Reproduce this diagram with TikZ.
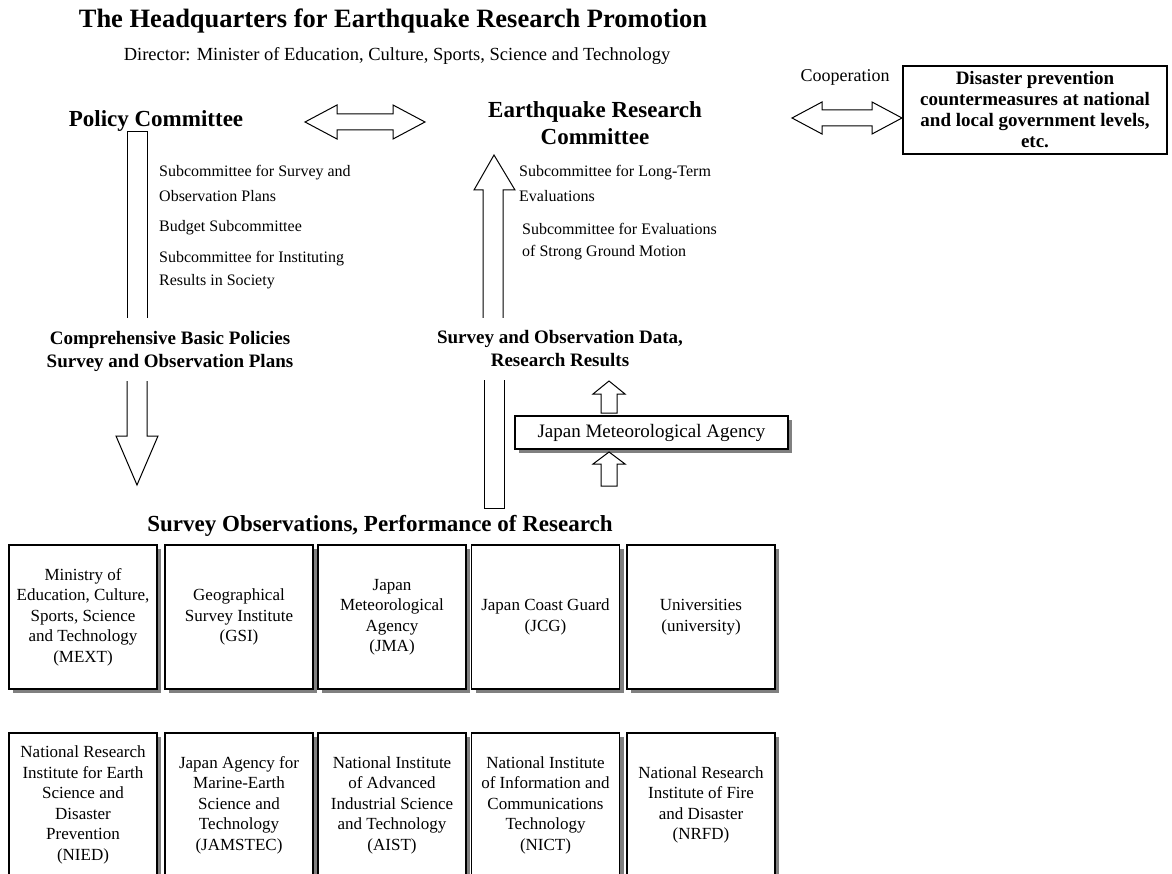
\documentclass[tikz,border=0pt]{standalone}
\usepackage{fontspec}
\setmainfont{Liberation Serif}
\usetikzlibrary{shadows}
\begin{document}
\begin{tikzpicture}[x=1pt,y=-1pt]
\tikzset{
 titletext/.style={font=\bfseries\fontsize{26.5}{30}\selectfont, inner sep=0},
 subtitletext/.style={font=\fontsize{18.5}{22}\selectfont, inner sep=0},
 committee/.style={font=\bfseries\fontsize{23}{27}\selectfont, inner sep=0, align=center},
 subc/.style={font=\fontsize{16}{23}\selectfont, inner sep=0, anchor=west},
 flowlabel/.style={font=\bfseries\fontsize{19}{23}\selectfont, inner sep=0, align=center},
 orgbox/.style={draw, line width=1.3pt, fill=white, minimum width=148pt, minimum height=144pt, inner sep=0pt, align=center, font=\fontsize{17}{20.5}\selectfont, drop shadow={shadow xshift=4pt, shadow yshift=-4pt, fill=black!50, opacity=1}},
 blockarrow/.style={draw=black, line width=1pt, fill=white, line join=miter},
}
\useasboundingbox (0,0) rectangle (1172,874);
\fill[white] (0,0) rectangle (1172,874);

% titles
\node[titletext] (title) at (393,21) {The Headquarters for Earthquake Research Promotion};
\node[subtitletext] (director) at (397,56) {Director: Minister of Education, Culture, Sports, Science and Technology};

% committees
\node[committee] (pc) at (156,121) {Policy Committee};
\node[committee] (erc) at (595,123) {Earthquake Research\\Committee};
\node[font=\fontsize{18}{22}\selectfont, inner sep=0] (coop) at (845,77) {Cooperation};
\node[draw, line width=1.3pt, minimum width=264pt, minimum height=88pt, inner sep=0pt, align=center,
      font=\bfseries\fontsize{19}{21}\selectfont] (disaster) at (1035,110)
  {Disaster prevention\\countermeasures at national\\and local government levels,\\etc.};

% double arrows
\draw[blockarrow] (305,122) -- (337,105) -- (337,114) -- (393,114) -- (393,105) -- (425,122)
  -- (393,139) -- (393,130) -- (337,130) -- (337,139) -- cycle;
\draw[blockarrow] (792,118) -- (822,102) -- (822,110) -- (872,110) -- (872,102) -- (902,118)
  -- (872,134) -- (872,126) -- (822,126) -- (822,134) -- cycle;

% subcommittees
\node[subc] (s1) at (159,173) {Subcommittee for Survey and};
\node[subc] (s2) at (159,196) {Observation Plans};
\node[subc] (s3) at (159,228) {Budget Subcommittee};
\node[subc] (s4) at (159,259) {Subcommittee for Instituting};
\node[subc] (s5) at (159,282) {Results in Society};
\node[subc] (r1) at (519,173) {Subcommittee for Long-Term};
\node[subc] (r2) at (519,196) {Evaluations};
\node[subc] (r3) at (522,229) {Subcommittee for Evaluations};
\node[subc] (r4) at (522,253) {of Strong Ground Motion};

% flow labels
\node[flowlabel] (plans) at (170,351) {Comprehensive Basic Policies\\Survey and Observation Plans};
\node[flowlabel] (data) at (560,349) {Survey and Observation Data,\\Research Results};

% left arrow (policy -> bodies)
\draw[blockarrow, fill=none] (127,318) -- (127,132) -- (147,132) -- (147,318);
\draw[blockarrow, fill=none] (127,381) -- (127,436) -- (116,436) -- (137,485) -- (158,436) -- (147,436) -- (147,381);

% right arrow (bodies -> ERC)
\draw[blockarrow, fill=none] (483,318) -- (483,190) -- (474,190) -- (494,155) -- (515,190) -- (503,190) -- (503,318);
\draw[blockarrow, fill=none] (484,380) -- (484,508) -- (504,508) -- (504,380);

% JMA box and small arrows
\node[draw, line width=1.3pt, fill=white, minimum width=273pt, minimum height=33pt, inner sep=0pt,
      font=\fontsize{19}{22}\selectfont,
      drop shadow={shadow xshift=4pt, shadow yshift=-4pt, fill=black!50, opacity=1}] (jma) at (651.5,432.5) {Japan Meteorological Agency};
\draw[blockarrow] (601,413) -- (601,394) -- (593,394) -- (609,381) -- (625,394) -- (617,394) -- (617,413) -- cycle;
\draw[blockarrow] (601,486) -- (601,464) -- (593,464) -- (609,452) -- (625,464) -- (617,464) -- (617,486) -- cycle;

% heading
\node[committee] (perf) at (380,526) {Survey Observations, Performance of Research};

% top row
\node[orgbox] (mext) at (83,617) {Ministry of\\Education, Culture,\\Sports, Science\\and Technology\\(MEXT)};
\node[orgbox] (gsi) at (239,617) {Geographical\\Survey Institute\\(GSI)};
\node[orgbox] (jmab) at (392,617) {Japan\\Meteorological\\Agency\\(JMA)};
\node[orgbox] (jcg) at (545.5,617) {Japan Coast Guard\\(JCG)};
\node[orgbox] (univ) at (701,617) {Universities\\(university)};

% bottom row
\node[orgbox] (nied) at (83,805) {National Research\\Institute for Earth\\Science and\\Disaster\\Prevention\\(NIED)};
\node[orgbox] (jamstec) at (239,805) {Japan Agency for\\Marine-Earth\\Science and\\Technology\\(JAMSTEC)};
\node[orgbox] (aist) at (392,805) {National Institute\\of Advanced\\Industrial Science\\and Technology\\(AIST)};
\node[orgbox] (nict) at (545.5,805) {National Institute\\of Information and\\Communications\\Technology\\(NICT)};
\node[orgbox] (nrfd) at (701,805) {National Research\\Institute of Fire\\and Disaster\\(NRFD)};
\end{tikzpicture}
\end{document}
